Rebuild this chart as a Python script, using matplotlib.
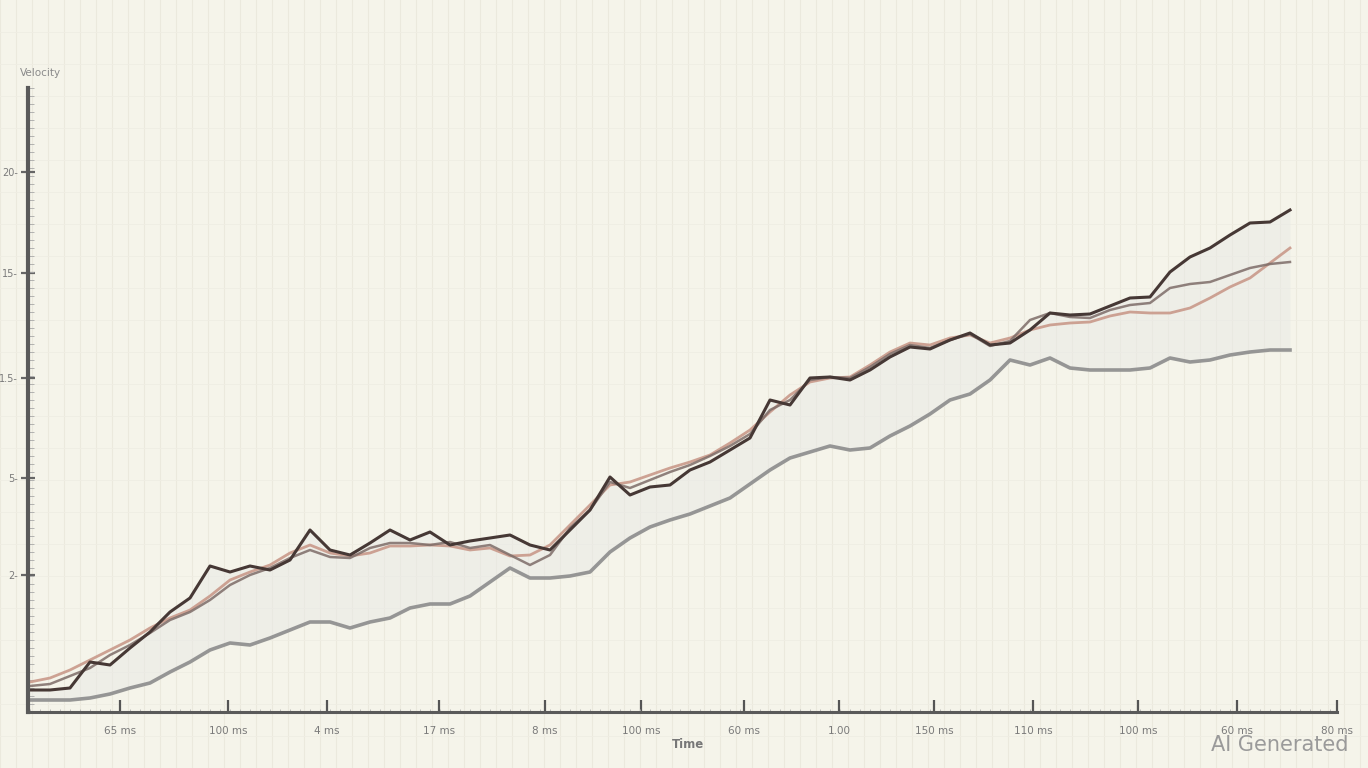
import numpy as np
import matplotlib
matplotlib.use("Agg")
import matplotlib.pyplot as plt
from matplotlib.lines import Line2D
from matplotlib.ticker import MultipleLocator

# four traces, one sample every step
dark = [1.1, 1.1, 1.2, 2.5, 2.35, 3.2, 4.0, 5.0, 5.7, 7.3,
        7.0, 7.3, 7.1, 7.6, 9.1, 8.1, 7.85, 8.45, 9.1, 8.6,
        9.0, 8.35, 8.55, 8.7, 8.85, 8.35, 8.1, 9.1, 10.1, 11.75,
        10.85, 11.25, 11.35, 12.1, 12.5, 13.1, 13.7, 15.6, 15.35, 16.7,
        16.75, 16.6, 17.1, 17.75, 18.25, 18.15, 18.6, 18.95, 18.35, 18.45,
        19.1, 19.95, 19.85, 19.9, 20.3, 20.7, 20.75, 22.0, 22.75, 23.2,
        23.85, 24.45, 24.5, 25.1]
medium = [1.3, 1.4, 1.8, 2.2, 2.85, 3.35, 3.95, 4.6, 5.0, 5.6,
          6.35, 6.85, 7.2, 7.7, 8.1, 7.75, 7.7, 8.2, 8.45, 8.45,
          8.35, 8.5, 8.2, 8.35, 7.85, 7.35, 7.85, 9.2, 10.1, 11.5,
          11.2, 11.6, 12.0, 12.35, 12.8, 13.3, 13.9, 15.1, 15.6, 16.6,
          16.75, 16.7, 17.25, 17.9, 18.35, 18.2, 18.6, 18.9, 18.3, 18.55,
          19.6, 19.95, 19.75, 19.7, 20.1, 20.35, 20.45, 21.2, 21.4, 21.5,
          21.85, 22.2, 22.4, 22.5]
salmon = [1.5, 1.7, 2.1, 2.6, 3.1, 3.6, 4.2, 4.7, 5.1, 5.8,
          6.6, 7.0, 7.35, 7.95, 8.35, 7.95, 7.8, 7.95, 8.3, 8.3,
          8.35, 8.3, 8.1, 8.2, 7.8, 7.85, 8.35, 9.35, 10.35, 11.35,
          11.5, 11.85, 12.2, 12.5, 12.85, 13.45, 14.1, 15.0, 15.85, 16.5,
          16.7, 16.75, 17.35, 18.0, 18.45, 18.35, 18.7, 18.85, 18.45, 18.7,
          19.1, 19.35, 19.45, 19.5, 19.8, 20.0, 19.95, 19.95, 20.2, 20.7,
          21.25, 21.7, 22.45, 23.2]
gray = [0.6, 0.6, 0.6, 0.7, 0.9, 1.2, 1.45, 2.0, 2.5, 3.1,
        3.45, 3.35, 3.7, 4.1, 4.5, 4.5, 4.2, 4.5, 4.7, 5.2,
        5.4, 5.4, 5.8, 6.5, 7.2, 6.7, 6.7, 6.8, 7.0, 8.0,
        8.7, 9.25, 9.6, 9.9, 10.3, 10.7, 11.4, 12.1, 12.7, 13.0,
        13.3, 13.1, 13.2, 13.8, 14.3, 14.9, 15.6, 15.9, 16.6, 17.6,
        17.35, 17.7, 17.2, 17.1, 17.1, 17.1, 17.2, 17.7, 17.5, 17.6,
        17.85, 18.0, 18.1, 18.1]

x_ticks = [4.5, 9.9, 14.85, 20.45, 25.75, 30.55, 35.7, 40.45, 45.2, 50.15, 55.4, 60.35, 65.35]
x_labels = ["65 ms", "100 ms", "4 ms", "17 ms", "8 ms", "100 ms", "60 ms",
            "1.00", "150 ms", "110 ms", "100 ms", "60 ms", "80 ms"]
y_ticks = [6.85, 11.7, 16.7, 21.95, 27.0]
y_labels = ["2", "5", "1.5", "15", "20"]

t = np.arange(len(dark))

bg = "#f5f4ea"
fig = plt.figure(figsize=(13.68, 7.68), dpi=100, facecolor=bg)

# faint paper grid over the whole picture
for xf in np.arange(0, 1, 16 / 1368):
    fig.add_artist(Line2D([xf, xf], [0, 1], color="#ebe9dd", lw=0.8, zorder=0))
for yf in np.arange(0, 1, 32 / 768):
    fig.add_artist(Line2D([0, 1], [yf, yf], color="#efede3", lw=0.6, zorder=0))

ax = fig.add_axes([28 / 1368, 1 - 712 / 768, (1337 - 28) / 1368, (712 - 88) / 768])
ax.set_facecolor("none")

ax.fill_between(t, gray, dark, color="#e9e9e6", alpha=0.5, lw=0)

ax.plot(t, gray, color="#8c8c8c", lw=2.6, alpha=0.9, solid_joinstyle="round")
ax.plot(t, salmon, color="#c9998a", lw=2.0, alpha=0.9, solid_joinstyle="round")
ax.plot(t, medium, color="#7d6c68", lw=1.8, alpha=0.85, solid_joinstyle="round")
ax.plot(t, dark, color="#463835", lw=2.2, solid_joinstyle="round")

ax.set_xlim(-0.1, 65.35)
ax.set_ylim(0, 31.2)

for s in ["top", "right"]:
    ax.spines[s].set_visible(False)
ax.spines["left"].set_color("#5a5a5a")
ax.spines["left"].set_linewidth(3)
ax.spines["bottom"].set_color("#5a5a5a")
ax.spines["bottom"].set_linewidth(2.2)

ax.set_xticks(x_ticks)
ax.set_xticklabels(x_labels, fontsize=7.5, color="#7a7a7a")
ax.set_yticks(y_ticks)
ax.set_yticklabels([l + "-" for l in y_labels], fontsize=7, color="#7a7a7a")
ax.xaxis.set_minor_locator(MultipleLocator(0.5))
ax.yaxis.set_minor_locator(MultipleLocator(0.4))
ax.tick_params(axis="x", which="major", direction="in", length=9, width=1.6,
               color="#555555", pad=10)
ax.tick_params(axis="x", which="minor", direction="in", length=2, width=0.6,
               color="#b0b0b0")
ax.tick_params(axis="y", which="major", direction="inout", length=10, width=1.6,
               color="#666666", pad=2)
ax.tick_params(axis="y", which="minor", direction="in", length=4, width=0.6,
               color="#a8a8a8")

fig.text(40 / 1368, 1 - 73 / 768, "Velocity", fontsize=7.5, color="#8a8a8a",
         ha="center", va="center")
fig.text(688 / 1368, 1 - 745 / 768, "Time", fontsize=8.5, color="#777777",
         fontweight="bold", ha="center", va="center")
fig.text(1280 / 1368, 1 - 745 / 768, "AI Generated", fontsize=15, color="#9a9a9a",
         ha="center", va="center")

fig.savefig("out.png", dpi=100, facecolor=bg)
